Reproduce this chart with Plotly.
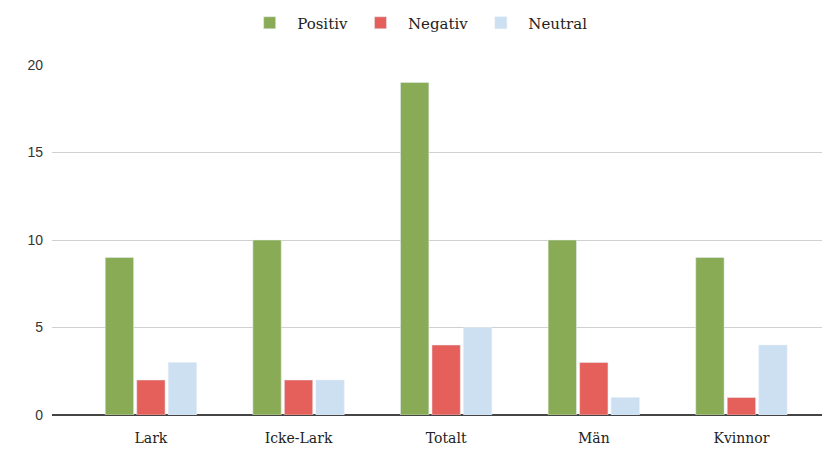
import plotly.graph_objects as go

kategorier = ["Lark", "Icke-Lark", "Totalt", "Män", "Kvinnor"]
positiv = [9, 10, 19, 10, 9]
negativ = [2, 2, 4, 3, 1]
neutral = [3, 2, 5, 1, 4]

fig = go.Figure()
fig.add_trace(go.Bar(x=kategorier, y=positiv, name="Positiv", marker_color="#8AAB55"))
fig.add_trace(go.Bar(x=kategorier, y=negativ, name="Negativ", marker_color="#E5605A"))
fig.add_trace(go.Bar(x=kategorier, y=neutral, name="Neutral", marker_color="#CDE0F2"))

# sidan har 8 px marginal runt figuren
fig.update_layout(
    width=822, height=442,
    margin=dict(l=44, r=0, t=57, b=35, autoexpand=False),
    plot_bgcolor="white", paper_bgcolor="white",
    barmode="group", bargap=0.36, bargroupgap=0.1,
    legend=dict(orientation="h", x=0.47, xanchor="center", y=1.12, yanchor="middle",
                itemwidth=45,
                font=dict(family="DejaVu Serif", size=15, color="#222")),
    xaxis=dict(range=[-0.67, 4.6], showgrid=False, showline=False, ticks="",
               automargin=False, ticklabelstandoff=13,
               tickfont=dict(family="DejaVu Serif", size=14, color="#222")),
    yaxis=dict(range=[0, 20], dtick=5, showgrid=True, gridcolor="#d0d0d0",
               zeroline=True, zerolinecolor="#444", zerolinewidth=1.5,
               ticks="", ticklabelstandoff=8, automargin=False,
               tickfont=dict(family="Liberation Sans", size=14, color="#333")),
)

fig.write_html("out.html")
